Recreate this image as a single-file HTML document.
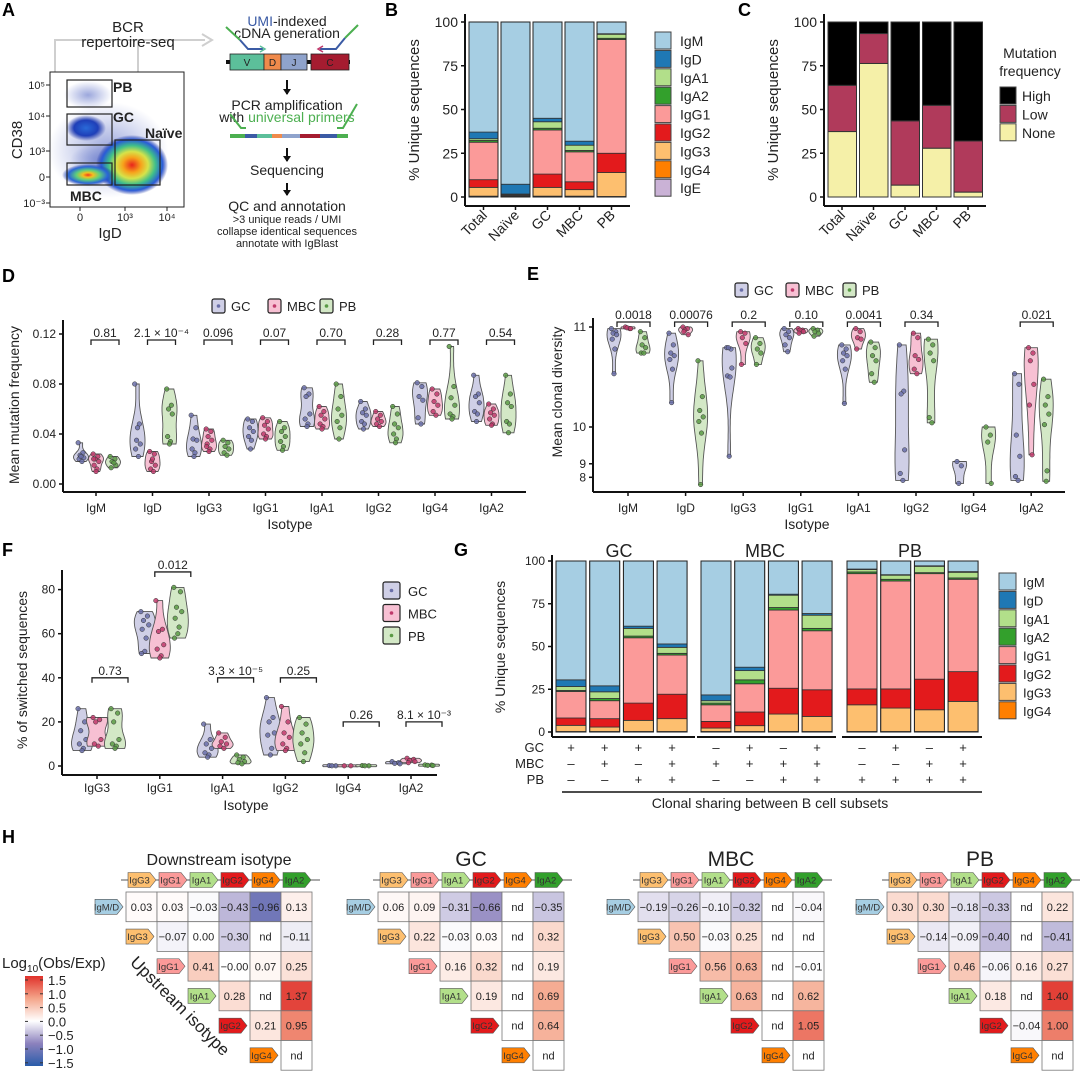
<!DOCTYPE html>
<html><head><meta charset="utf-8">
<style>body{margin:0;background:#fff}svg{display:block;font-family:"Liberation Sans",Arial,sans-serif}</style>
</head><body>
<svg id="fig" width="1080" height="1071" viewBox="0 0 1080 1071">
<defs>
<radialGradient id="gNaive" cx="50%" cy="50%" r="50%"><stop offset="0" stop-color="#e8241c"/><stop offset="0.25" stop-color="#f7a21b"/><stop offset="0.45" stop-color="#d6e34a"/><stop offset="0.65" stop-color="#3fbf8a"/><stop offset="0.85" stop-color="#2a5bd8"/><stop offset="1" stop-color="#1a2fa0" stop-opacity="0"/></radialGradient>
<radialGradient id="gMBC" cx="50%" cy="50%" r="50%"><stop offset="0" stop-color="#f03a1c"/><stop offset="0.2" stop-color="#f4c020"/><stop offset="0.45" stop-color="#5fd07a"/><stop offset="0.75" stop-color="#2a66d8"/><stop offset="1" stop-color="#1a2fa0" stop-opacity="0"/></radialGradient>
<radialGradient id="gBlue" cx="50%" cy="50%" r="50%"><stop offset="0" stop-color="#2a6ad8"/><stop offset="0.6" stop-color="#1f3fb8"/><stop offset="1" stop-color="#1a2fa0" stop-opacity="0"/></radialGradient>
<radialGradient id="gSparse" cx="50%" cy="50%" r="50%"><stop offset="0" stop-color="#4a5fc0" stop-opacity="0.55"/><stop offset="1" stop-color="#4a5fc0" stop-opacity="0"/></radialGradient>
<linearGradient id="cbar" x1="0" y1="0" x2="0" y2="1"><stop offset="0" stop-color="#e0302a"/><stop offset="0.25" stop-color="#f4a58a"/><stop offset="0.5" stop-color="#ffffff"/><stop offset="0.75" stop-color="#8c82bd"/><stop offset="1" stop-color="#2a5caa"/></linearGradient>
</defs>
</svg>
<script>
// ---------- DATA ----------
const bCats=['Total','Naïve','GC','MBC','PB'];
const bIsos=['IgE','IgG4','IgG3','IgG2','IgG1','IgA2','IgA1','IgD','IgM'];
const bIgE=[0,0,0,0,0];
const bIgG4=[0.5,0.3,0.5,0.5,0.3];
const bIgG3=[5,0.3,5,3.7,13.7];
const bIgG2=[4.4,0.3,7.6,4.5,11];
const bIgG1=[21.4,0.5,25.2,17.1,65];
const bIgA2=[1,0,1,0.8,0.7];
const bIgA1=[1,0.3,3.7,3,2.3];
const bIgD=[3.8,5.6,2,2.3,0.3];
const bIgM=[62.9,92.7,55,68.1,6.7];
const cNone=[37.4,76.3,6.8,27.9,2.8];
const cLow=[26.4,17.1,36.7,24.5,29.2];
const cHigh=[36.2,6.6,56.5,47.6,68];
const dCats=['IgM','IgD','IgG3','IgG1','IgA1','IgG2','IgG4','IgA2'];
const dP=['0.81','2.1 × 10⁻⁴','0.096','0.07','0.70','0.28','0.77','0.54'];
const dGC=[[.033,.025,.023,.021,.02,.018,.022],[.08,.048,.035,.032,.028,.022,.045],[.055,.045,.036,.035,.028,.025,.022],[.052,.05,.045,.042,.038,.035,.028],[.077,.072,.07,.056,.052,.048,.046],[.066,.06,.057,.055,.05,.048,.044],[.081,.078,.07,.067,.053,.048],[.087,.072,.07,.065,.058,.056,.05]];
const dMBC=[[.024,.022,.02,.018,.015,.012,.01,.02],[.026,.024,.018,.015,.012,.01,.02],[.044,.042,.038,.035,.032,.028,.026,.03],[.053,.05,.047,.044,.04,.038,.036],[.062,.058,.055,.052,.048,.046,.044],[.058,.055,.052,.05,.048,.046],[.076,.072,.066,.063,.058,.055],[.064,.06,.057,.055,.052,.048,.047]];
const dPB=[[.022,.02,.018,.015,.013,.017],[.076,.063,.06,.056,.038,.034,.032],[.035,.033,.03,.028,.025,.023],[.05,.045,.042,.038,.034,.03,.027],[.08,.07,.06,.055,.05,.045,.036],[.062,.056,.048,.045,.04,.036,.033],[.11,.078,.069,.063,.056,.054,.052],[.087,.072,.065,.062,.05,.048,.041]];
const eP=['0.0018','0.00076','0.2','0.10','0.0041','0.34',null,'0.021'];
const eGC=[[10.99,10.97,10.96,10.95,10.92,10.85,10.65],[10.96,10.88,10.82,10.8,10.77,10.69,10.35],[10.86,10.85,10.86,10.7,10.63,10.62,9.3],[10.99,10.97,10.95,10.93,10.88,10.83],[10.88,10.85,10.82,10.8,10.76,10.69,10.34],[10.88,10.48,10.45,9.5,8.4,7.5],[9.1,8.9,6.5],[10.65,10.55,9.85,9.3,8.1,7.5]];
const eMBC=[[11.0,10.99,10.995,10.99],[11.0,10.99,10.98,10.95,10.97],[10.97,10.96,10.93,10.89,10.73],[10.99,10.98,10.98,10.97,10.96],[10.99,10.97,10.93,10.92,10.85],[10.96,10.93,10.8,10.77,10.69,10.65],[],[10.86,10.82,10.76,10.55,10.32,9.35]];
const ePB=[[10.97,10.93,10.88,10.86,10.82,10.82],[10.76,10.42,10.25,10.16,10.09,9.89,5.5],[10.93,10.89,10.85,10.82,10.73],[10.99,10.98,10.97,10.96,10.94],[10.9,10.86,10.8,10.76,10.65,10.57],[10.92,10.88,10.82,10.76,10.15,10.07],[10.0,9.85,9.7,6.5],[10.6,10.42,10.32,10.2,10.04,8.6,7.3]];
const fCats=['IgG3','IgG1','IgA1','IgG2','IgG4','IgA2'];
const fP=['0.73','0.012','3.3 × 10⁻⁵','0.25','0.26','8.1 × 10⁻³'];
const fPLevel=[40,88,40,40,20,20];
const fGC=[[26,20,16,12,10,8,7],[70,68,66,64,62,58,52,51],[19,12,10,8,6,5,4],[31,22,20,15,14,8,5],[0.2,0.1,0.1],[2,1.5,1.2,1]];
const fMBC=[[22,21,20,12,10,9],[75,62,61,55,53,50,49],[15,13,11,10,9,8],[27,20,15,13,10,8,7],[0.1,0.1],[3.5,3,2.5,2,1.5]];
const fPB=[[26,24,20,12,10,9,8],[81,79,72,70,67,63,60,58],[5,4,3,2,1.5,1],[22,19,15,12,10,6,2],[0.2,0.1,0.1],[0.5,0.4,0.3,0.2]];
const gIsos=['IgG4','IgG3','IgG2','IgG1','IgA2','IgA1','IgD','IgM'];
const gIgG4=[0.3,0.3,0.3,0.3,0.3,0.3,0.3,0.3,0.3,0.3,0.3,0.3];
const gIgG3=[3.6,2.6,6.5,7.5,2,3.4,10.2,8.8,15.6,13.7,12.7,17.6];
const gIgG2=[4.3,4.9,10.1,14.3,3.9,8,15.1,15.6,9.3,11.2,17.9,17.4];
const gIgG1=[15.5,10.5,38.2,22.9,9.7,16.5,45.7,34.5,67.4,63.1,61.7,54];
const gIgA2=[0.6,1.3,1,1,1,2.3,1.5,1.4,1,1,0.6,0.8];
const gIgA1=[2.3,3.9,4.5,3.5,1.4,5.4,7.2,7.7,1.4,2.4,3.7,3.3];
const gIgD=[3.9,3.5,1.3,2,3.4,2,0.6,1,0.3,0.3,0.3,0.4];
const gIgM=[69.5,73,38.1,48.5,78.3,62.1,19.4,30.7,4.7,8,2.8,6.2];
const gSignGC=['+','+','+','+','–','+','–','+','–','+','–','+'];
const gSignMBC=['–','+','–','+','+','+','+','+','–','–','+','+'];
const gSignPB=['–','–','+','+','–','–','+','+','+','+','+','+'];
const hCols=['IgG3','IgG1','IgA1','IgG2','IgG4','IgA2'];
const hRows=['IgM/D','IgG3','IgG1','IgA1','IgG2','IgG4'];
const hAll=[[.03,.03,-.03,-.43,-.96,.13],[-.07,0,-.30,null,-.11],[.41,-0.001,.07,.25],[.28,null,1.37],[.21,.95],[null]];
const hGC=[[.06,.09,-.31,-.66,null,-.35],[.22,-.03,.03,null,.32],[.16,.32,null,.19],[.19,null,.69],[null,.64],[null]];
const hMBC=[[-.19,-.26,-.10,-.32,null,-.04],[.50,-.03,.25,null,null],[.56,.63,null,-.01],[.63,null,.62],[null,1.05],[null]];
const hPB=[[.30,.30,-.18,-.33,null,.22],[-.14,-.09,-.40,null,-.41],[.46,-.06,.16,.27],[.18,null,1.40],[-.04,1.00],[null]];

// ---------- HELPERS ----------
const NS='http://www.w3.org/2000/svg';
const svg=document.getElementById('fig');
function mk(tag,a,p){const e=document.createElementNS(NS,tag);for(const k in a)e.setAttribute(k,a[k]);(p||svg).appendChild(e);return e;}
function tx(p,x,y,s,size,anchor,extra){const e=mk('text',Object.assign({x:x,y:y,'font-size':size||12,'text-anchor':anchor||'start',fill:'#222'},extra||{}),p);e.textContent=s;return e;}
function line(p,x1,y1,x2,y2,c,w){return mk('line',{x1:x1,y1:y1,x2:x2,y2:y2,stroke:c||'#111','stroke-width':w||1.5},p);}
const isoCol={IgM:'#a6cee3',IgD:'#1f78b4',IgA1:'#b2df8a',IgA2:'#33a02c',IgG1:'#fb9a99',IgG2:'#e31a1c',IgG3:'#fdbf6f',IgG4:'#ff7f00',IgE:'#cab2d6','IgM/D':'#a6cee3'};
const grpFill=['#cfcfe6','#f7c0d3','#d3e8c6'];
const grpDot=['#6a6fa8','#c0396b','#5a9a45'];
const grpNames=['GC','MBC','PB'];
const jit=[-3,2,-1,3,-2,1,0,-2.5];

function panelLabel(s,x,y){const t=tx(svg,x,y,s,18,'start',{'font-weight':'bold',fill:'#000'});

}

function violin(p,vals,x,yOf,halfW,gi,name){
  if(!vals.length)return;
  const ys=vals.map(yOf);let lo=Math.min(...ys),hi=Math.max(...ys);
  if(hi-lo<2){const m=(hi+lo)/2;lo=m-1;hi=m+1;}
  const n=ys.length,mean=ys.reduce((a,b)=>a+b,0)/n;
  const sd=Math.sqrt(ys.reduce((a,b)=>a+(b-mean)*(b-mean),0)/n)||1;
  const bw=Math.max(2.5,1.0*sd*Math.pow(n,-0.2));
  const N=30,d=[];for(let k=0;k<=N;k++){const yy=lo+(hi-lo)*k/N;let s=0;ys.forEach(v=>{s+=Math.exp(-0.5*((yy-v)/bw)**2);});d.push([yy,s]);}
  const mx=Math.max(...d.map(q=>q[1]));
  let pth='M'+d.map(q=>(x-q[1]/mx*halfW).toFixed(1)+','+q[0].toFixed(1)).join('L');
  pth+='L'+d.slice().reverse().map(q=>(x+q[1]/mx*halfW).toFixed(1)+','+q[0].toFixed(1)).join('L')+'Z';
  const v=mk('path',{d:pth,fill:grpFill[gi],stroke:'#555','stroke-width':0.9},p);
  
  
  ys.forEach((yy,k)=>{const c=mk('circle',{cx:x+jit[k%8]*halfW/8,cy:yy,r:2.3,fill:grpDot[gi],stroke:'#333','stroke-width':0.5,'fill-opacity':0.85},p);
    
    });
}
function bracket(p,x1,x2,y,label){
  mk('path',{d:`M${x1},${y+5}V${y}H${x2}V${y+5}`,fill:'none',stroke:'#222','stroke-width':1.3},p);
  const t=tx(p,(x1+x2)/2,y-3,label,12,'middle');
  
  
}
function groupLegendH(p,x0s,y){
  grpNames.forEach((nm,i)=>{const g=mk('g',{},p);
    
    
    mk('rect',{x:x0s[i],y:y,width:13,height:14,rx:2,fill:grpFill[i],stroke:'#222','stroke-width':1.2},g);
    mk('circle',{cx:x0s[i]+6.5,cy:y+7,r:1.8,fill:grpDot[i]},g);
    tx(g,x0s[i]+19,y+12,nm,13);});
}

// ================= PANEL A =================
panelLabel('A',2,16);
const gA=mk('g',{});


mk('path',{d:'M55,92V40H205M55,128H66M55,173H66M55,92H66M138,40V140',fill:'none',stroke:'#cfcfcf','stroke-width':2},gA);
mk('path',{d:'M202,34L212,40L202,46',fill:'none',stroke:'#cfcfcf','stroke-width':2},gA);
tx(gA,128,32,'BCR',15,'middle');tx(gA,128,47,'repertoire-seq',15,'middle');
const fl=mk('g',{},gA);


mk('rect',{x:50,y:72,width:134,height:135,fill:'#fff',stroke:'#222','stroke-width':1},fl);
mk('ellipse',{cx:108,cy:150,rx:60,ry:48,fill:'url(#gSparse)'},fl);
mk('ellipse',{cx:88,cy:95,rx:24,ry:14,fill:'url(#gSparse)'},fl);
mk('ellipse',{cx:86,cy:128,rx:20,ry:13,fill:'url(#gBlue)'},fl);
mk('ellipse',{cx:100,cy:160,rx:30,ry:16,fill:'url(#gSparse)'},fl);
mk('ellipse',{cx:132,cy:165,rx:36,ry:30,fill:'url(#gNaive)'},fl);
mk('ellipse',{cx:88,cy:175,rx:26,ry:11,fill:'url(#gMBC)'},fl);
[[67,80,45,27,'PB-gate'],[67,114,45,31,'GC-gate'],[67,163,45,22,'MBC-gate'],[115,140,45,45,'naive-gate']].forEach(r=>{const q=mk('rect',{x:r[0],y:r[1],width:r[2],height:r[3],fill:'none',stroke:'#222','stroke-width':1.2},fl);
  
  });
tx(fl,113,92,'PB',14,'start',{'font-weight':'bold'});
tx(fl,113,122,'GC',14,'start',{'font-weight':'bold'});
tx(fl,145,138,'Naïve',14,'start',{'font-weight':'bold'});
tx(fl,70,201,'MBC',14,'start',{'font-weight':'bold'});
[['10⁵',89],['10⁴',120],['10³',155],['0',181],['10⁻³',207]].forEach(t=>{tx(fl,45,t[1],t[0],11,'end');line(fl,46,t[1]-4,50,t[1]-4,'#222',1);});
[['0',80],['10³',125],['10⁴',167]].forEach(t=>{tx(fl,t[1],221,t[0],11,'middle');line(fl,t[1],207,t[1],211,'#222',1);});
tx(fl,110,238,'IgD',15,'middle');
tx(fl,0,0,'CD38',15,'middle',{transform:'translate(22,140) rotate(-90)'});
const lp=mk('g',{},gA);


const t1=tx(lp,287,26,'',14,'middle');t1.innerHTML='<tspan fill="#3b5ba5">UMI</tspan>-indexed';
tx(lp,287,38,'cDNA generation',14,'middle');
line(lp,226,62,350,62,'#111',4);
[[230,34,'#5cbf9a','V'],[264,17,'#f08a4b','D'],[281,26,'#8fa3cc','J'],[311,38,'#a51c30','C']].forEach(s=>{mk('rect',{x:s[0],y:54,width:s[1],height:16,fill:s[2],stroke:'#222','stroke-width':0.8},lp);tx(lp,s[0]+s[1]/2,66,s[3],10,'middle');});
mk('path',{d:'M226,27L240,40',stroke:'#4caf50','stroke-width':2,fill:'none'},lp);
mk('path',{d:'M240,40L248,49H263',stroke:'#3b5ba5','stroke-width':2,fill:'none'},lp);
mk('path',{d:'M358,25L345,38',stroke:'#4caf50','stroke-width':2,fill:'none'},lp);
mk('path',{d:'M345,38L336,49H320',stroke:'#3b5ba5','stroke-width':2,fill:'none'},lp);
mk('path',{d:'M260,46L265,49L260,52',stroke:'#5cbf9a','stroke-width':1.5,fill:'none'},lp);
mk('path',{d:'M323,46L318,49L323,52',stroke:'#c0396b','stroke-width':1.5,fill:'none'},lp);
function darrow(y1,y2){line(lp,287,y1,287,y2,'#111',2);mk('path',{d:`M283,${y2-5}L287,${y2+1}L291,${y2-5}Z`,fill:'#111'},lp);}
darrow(80,94);
tx(lp,287,110,'PCR amplification',14,'middle');
const t2=tx(lp,287,122,'',14,'middle');t2.innerHTML='with <tspan fill="#4caf50">universal primers</tspan>';
[[230,15,'#4caf50'],[245,12,'#3b5ba5'],[257,15,'#5cbf9a'],[272,10,'#f08a4b'],[282,18,'#8fa3cc'],[300,20,'#a51c30'],[320,17,'#3b5ba5'],[337,11,'#4caf50']].forEach(s=>mk('rect',{x:s[0],y:134,width:s[1],height:4,fill:s[2]},lp));
mk('path',{d:'M230,114L241,128H246',stroke:'#4caf50','stroke-width':2,fill:'none'},lp);
mk('path',{d:'M357,104L343,128H337',stroke:'#4caf50','stroke-width':2,fill:'none'},lp);
darrow(148,161);
tx(lp,287,175,'Sequencing',14,'middle');
darrow(183,195);
tx(lp,287,211,'QC and annotation',14,'middle');
tx(lp,287,223,'>3 unique reads / UMI',11,'middle');
tx(lp,287,235,'collapse identical sequences',11,'middle');
tx(lp,287,247,'annotate with IgBlast',11,'middle');

// ================= PANEL B =================
panelLabel('B',385,16);
const gB=mk('g',{});


const yB=v=>197-v*1.75, xB=i=>469+i*32;
const bSeries=[bIgE,bIgG4,bIgG3,bIgG2,bIgG1,bIgA2,bIgA1,bIgD,bIgM];
bCats.forEach((c,i)=>{let cum=0;bSeries.forEach((s,k)=>{const v=s[i];if(v<=0)return;
  const r=mk('rect',{x:xB(i),y:yB(cum+v),width:29,height:yB(cum)-yB(cum+v),fill:isoCol[bIsos[k]],stroke:'#333','stroke-width':0.8},gB);
  
  
  cum+=v;});
  mk('rect',{x:xB(i),y:yB(100),width:29,height:yB(0)-yB(100),fill:'none',stroke:'#222','stroke-width':1},gB);
  line(gB,xB(i)+14.5,206,xB(i)+14.5,210,'#111',1.5);
  tx(gB,0,0,c,14,'end',{transform:`translate(${xB(i)+19},216) rotate(-45)`});});
line(gB,465,14,465,206,'#111',2);line(gB,465,206,630,206,'#111',2);
[0,25,50,75,100].forEach(v=>{line(gB,461,yB(v),465,yB(v),'#111',1.5);tx(gB,458,yB(v)+5,String(v),14,'end');});
tx(gB,0,0,'% Unique sequences',15,'middle',{transform:'translate(419,110) rotate(-90)'});
['IgM','IgD','IgA1','IgA2','IgG1','IgG2','IgG3','IgG4','IgE'].forEach((n,i)=>{const g=mk('g',{},gB);
  
  
  mk('rect',{x:655,y:32+i*18.4,width:16,height:17,fill:isoCol[n],stroke:'#444','stroke-width':1},g);
  tx(g,680,46+i*18.4,n,14);});

// ================= PANEL C =================
panelLabel('C',738,16);
const gC=mk('g',{});


const xC=i=>828+i*31.5;
const cSeries=[cNone,cLow,cHigh],cCols=['#f5f0a8','#b03a5b','#000000'],cNames=['None','Low','High'];
bCats.forEach((c,i)=>{let cum=0;cSeries.forEach((s,k)=>{const v=s[i];
  const r=mk('rect',{x:xC(i),y:yB(cum+v),width:28.5,height:yB(cum)-yB(cum+v),fill:cCols[k],stroke:'#333','stroke-width':1},gC);
  
  
  cum+=v;});
  line(gC,xC(i)+14,206,xC(i)+14,210,'#111',1.5);
  tx(gC,0,0,c,14,'end',{transform:`translate(${xC(i)+18},216) rotate(-45)`});});
line(gC,824,14,824,206,'#111',2);line(gC,824,206,986,206,'#111',2);
[0,25,50,75,100].forEach(v=>{line(gC,820,yB(v),824,yB(v),'#111',1.5);tx(gC,817,yB(v)+5,String(v),14,'end');});
tx(gC,0,0,'% Unique sequences',15,'middle',{transform:'translate(778,110) rotate(-90)'});
tx(gC,1030,58,'Mutation',14,'middle');tx(gC,1030,76,'frequency',14,'middle');
['High','Low','None'].forEach((n,i)=>{const g=mk('g',{},gC);
  
  
  mk('rect',{x:1000,y:87+i*18.4,width:16,height:17,fill:cCols[2-i],stroke:'#444','stroke-width':1},g);
  tx(g,1022,101+i*18.4,n,14);});

// ================= PANEL D =================
panelLabel('D',2,282);
const gD=mk('g',{});


const yD=v=>484-v*1250, xD=i=>96+i*56.5, offD=[-15,0,17];
groupLegendH(gD,[212,268,320],299);
[dGC,dMBC,dPB].forEach((arr,gi)=>arr.forEach((vals,i)=>violin(gD,vals,xD(i)+offD[gi],yD,7.5,gi,'d-'+dCats[i].toLowerCase()+'-'+grpNames[gi].toLowerCase())));
dCats.forEach((c,i)=>{bracket(gD,xD(i)-5,xD(i)+23,340,dP[i]);line(gD,xD(i),492,xD(i),496,'#111',1.5);tx(gD,xD(i),512,c,12,'middle');});
line(gD,63,320,63,492,'#111',2);line(gD,63,492,526,492,'#111',2);
[0,0.04,0.08,0.12].forEach(v=>{line(gD,59,yD(v),63,yD(v),'#111',1.5);tx(gD,56,yD(v)+4,v.toFixed(2),12,'end');});
tx(gD,0,0,'Mean mutation frequency',14,'middle',{transform:'translate(19,405) rotate(-90)'});
tx(gD,290,529,'Isotype',14,'middle');

// ================= PANEL E =================
panelLabel('E',527,280);
const gE=mk('g',{});


const yE=v=>327+0.002642*(Math.exp(11)-Math.exp(v)), xE=i=>628+i*57.6, offE=[-14,0,15];
groupLegendH(gE,[735,786,843],283);
[eGC,eMBC,ePB].forEach((arr,gi)=>arr.forEach((vals,i)=>violin(gE,vals,xE(i)+offE[gi],yE,7,gi,'e-'+dCats[i].toLowerCase()+'-'+grpNames[gi].toLowerCase())));
dCats.forEach((c,i)=>{if(eP[i])bracket(gE,xE(i)-11,xE(i)+22,322,eP[i]);line(gE,xE(i),492,xE(i),496,'#111',1.5);tx(gE,xE(i),512,c,12,'middle');});
line(gE,593,318,593,492,'#111',2);line(gE,593,492,1065,492,'#111',2);
[11,10,9,8].forEach(v=>{line(gE,589,yE(v),593,yE(v),'#111',1.5);tx(gE,586,yE(v)+4,String(v),12,'end');});
tx(gE,0,0,'Mean clonal diversity',14,'middle',{transform:'translate(562,392) rotate(-90)'});
tx(gE,807,529,'Isotype',14,'middle');

// ================= PANEL F =================
panelLabel('F',2,556);
const gF=mk('g',{});


const yF=v=>766-v*2.205, xF=i=>97+i*62.8, offF=[-15,0,18];
[fGC,fMBC,fPB].forEach((arr,gi)=>arr.forEach((vals,i)=>violin(gF,vals,xF(i)+offF[gi],yF,10.5,gi,'f-'+fCats[i].toLowerCase()+'-'+grpNames[gi].toLowerCase())));
fCats.forEach((c,i)=>{bracket(gF,xF(i)-5,xF(i)+31,yF(fPLevel[i]),fP[i]);line(gF,xF(i),775,xF(i),779,'#111',1.5);tx(gF,xF(i),792,c,12,'middle');});
line(gF,62,570,62,775,'#111',2);line(gF,62,775,437,775,'#111',2);
[0,20,40,60,80].forEach(v=>{line(gF,58,yF(v),62,yF(v),'#111',1.5);tx(gF,55,yF(v)+4,String(v),12,'end');});
tx(gF,0,0,'% of switched sequences',14,'middle',{transform:'translate(27,670) rotate(-90)'});
tx(gF,246,810,'Isotype',14,'middle');
grpNames.forEach((nm,i)=>{const g=mk('g',{},gF);
  
  
  mk('rect',{x:383,y:582+i*22.5,width:17,height:17,rx:2,fill:grpFill[i],stroke:'#222','stroke-width':1.2},g);
  mk('circle',{cx:391.5,cy:590.5+i*22.5,r:1.8,fill:grpDot[i]},g);
  tx(g,408,596+i*22.5,nm,13);});

// ================= PANEL G =================
panelLabel('G',454,556);
const gG=mk('g',{});


const yG=v=>732-v*1.71, xG=i=>[556,701,847][Math.floor(i/4)]+(i%4)*33.7;
const gSeries=[gIgG4,gIgG3,gIgG2,gIgG1,gIgA2,gIgA1,gIgD,gIgM];
gIgM.forEach((_,i)=>{let cum=0;gSeries.forEach((s,k)=>{const v=s[i];
  const r=mk('rect',{x:xG(i),y:yG(cum+v),width:30,height:yG(cum)-yG(cum+v),fill:isoCol[gIsos[k]],stroke:'#333','stroke-width':0.8},gG);
  
  
  cum+=v;});
  mk('rect',{x:xG(i),y:yG(cum),width:30,height:yG(0)-yG(cum),fill:'none',stroke:'#222','stroke-width':1},gG);
  tx(gG,xG(i)+15,752,gSignGC[i],13,'middle');tx(gG,xG(i)+15,768,gSignMBC[i],13,'middle');tx(gG,xG(i)+15,784,gSignPB[i],13,'middle');});
line(gG,552,555,552,737,'#111',2);
[[552,695],[697,836],[842,982]].forEach(s=>line(gG,s[0],737,s[1],737,'#111',2));
[0,25,50,75,100].forEach(v=>{line(gG,548,yG(v),552,yG(v),'#111',1.5);tx(gG,545,yG(v)+4,String(v),12,'end');});
tx(gG,0,0,'% Unique sequences',14,'middle',{transform:'translate(505,647) rotate(-90)'});
tx(gG,619,557,'GC',18,'middle');tx(gG,765,557,'MBC',18,'middle');tx(gG,910,557,'PB',18,'middle');
tx(gG,544,752,'GC',13,'end');tx(gG,544,768,'MBC',13,'end');tx(gG,544,784,'PB',13,'end');
line(gG,562,792,982,792,'#111',1.5);
tx(gG,770,808,'Clonal sharing between B cell subsets',14,'middle');
['IgM','IgD','IgA1','IgA2','IgG1','IgG2','IgG3','IgG4'].forEach((n,i)=>{const g=mk('g',{},gG);
  
  
  mk('rect',{x:999,y:573+i*18.4,width:17,height:17,fill:isoCol[n],stroke:'#444','stroke-width':1},g);
  tx(g,1023,587+i*18.4,n,13);});

// ================= PANEL H =================
panelLabel('H',2,843);
const gH=mk('g',{});


function hColor(v){const stops=[[-1.5,[42,92,170]],[-0.75,[140,130,189]],[0,[255,255,255]],[0.75,[244,165,138]],[1.5,[224,48,42]]];
  v=Math.max(-1.5,Math.min(1.5,v));for(let k=0;k<4;k++){const a=stops[k],b=stops[k+1];if(v<=b[0]){const t=(v-a[0])/(b[0]-a[0]);return 'rgb('+a[1].map((c,j)=>Math.round(c+(b[1][j]-c)*t)).join(',')+')';}}return 'rgb(224,48,42)';}
function tag(p,x,y,name,w){const h=15;w=w||28;
  const t=mk('path',{d:`M${x},${y-h/2}H${x+w-6}L${x+w},${y}L${x+w-6},${y+h/2}H${x}Z`,fill:isoCol[name],stroke:'#555','stroke-width':0.6},p);
  
  
  tx(p,x+(w-5)/2,y+3.5,name,9.5,'middle',{fill:'#333'});}
const hX0=[126,378,638,887], hCW=31, hTop=892, hRH=29.7;
const hData=[hAll,hGC,hMBC,hPB], hTitles=['Downstream isotype','GC','MBC','PB'];
hData.forEach((mat,pi)=>{const x0=hX0[pi];const g=mk('g',{},gH);
  
  
  tx(g,x0+93,pi===0?865:866,hTitles[pi],pi===0?16:21,'middle');
  line(g,x0-5,880,Math.min(x0+6*hCW+8,1080),880,'#555',1);
  hCols.forEach((c,ci)=>tag(g,x0+ci*hCW+2,880,c));
  mat.forEach((row,r)=>{const yy=hTop+r*hRH;
    tag(g,x0+r*hCW-31,yy+hRH/2,hRows[r]);
    row.forEach((v,k)=>{const ci=r+k;const cx=x0+ci*hCW;
      const cell=mk('rect',{x:cx,y:yy,width:hCW,height:hRH,fill:v===null?'#fff':hColor(v),stroke:'#777','stroke-width':0.8},g);
      
      
      tx(g,cx+hCW/2,yy+hRH/2+4,v===null?'nd':v.toFixed(2).replace('-','−'),11,'middle',{fill:'#222'});});});});
tx(gH,0,0,'Upstream isotype',17,'middle',{transform:'translate(176,1010) rotate(45)'});
const lg=mk('g',{},gH);


const lt=tx(lg,2,968,'',15);lt.innerHTML='Log<tspan font-size="10" dy="4">10</tspan><tspan dy="-4">(Obs/Exp)</tspan>';
mk('rect',{x:25,y:976,width:18,height:90,fill:'url(#cbar)'},lg);
[1.5,1.0,0.5,0.0,-0.5,-1.0,-1.5].forEach((v,k)=>{const yy=980+k*13.8;line(lg,25,yy,28,yy,'#333',1);line(lg,40,yy,43,yy,'#333',1);tx(lg,48,yy+5,v.toFixed(1).replace('-','−'),13);});
</script>
</body></html>
